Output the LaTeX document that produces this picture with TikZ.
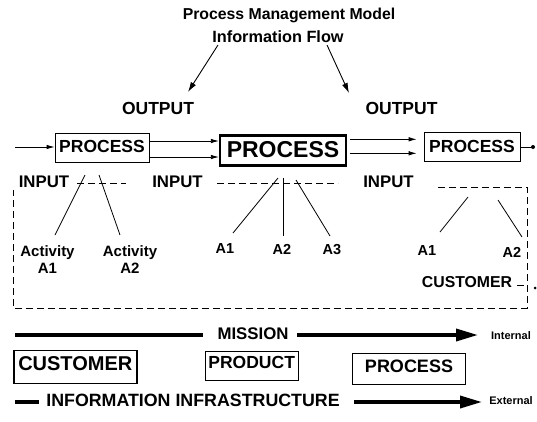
\documentclass[tikz,border=0pt]{standalone}
\usepackage{fontspec}
\setmainfont{Liberation Sans}
\usetikzlibrary{arrows.meta}
\newcommand{\fsz}[1]{\fontsize{#1}{#1}\selectfont\bfseries}
\begin{document}
\begin{tikzpicture}[x=1pt,y=-1pt,
  lbl/.style={inner sep=0pt, anchor=base, font=\fsz{#1}},
  lbl/.default=15,
  procbox/.style={draw, line width=0.8pt, inner ysep=0pt, inner xsep=0pt, anchor=base},
  flow/.style={line width=0.8pt, -{Latex[length=8pt,width=4.5pt]}},
  pointer/.style={line width=0.9pt, -{Latex[length=10pt,width=6pt]}},
  tie/.style={line width=0.8pt},
  frame/.style={line width=0.7pt, dash pattern=on 7pt off 4pt},
  heavy/.style={line width=4.5pt},
  heavyarrow/.style={line width=3.5pt, -{Triangle[length=22pt,width=12pt]}},
]
\useasboundingbox (0,0) rectangle (537,421);

% heading
\node[lbl=15.8] (title) at (289,19) {Process Management Model};
\node[lbl=16.3] (info) at (278,42) {Information Flow};
\coordinate (infoL) at (218,45);
\coordinate (infoR) at (327,45);

% outputs
\node[lbl=17.5] (out1) at (158,114.3) {OUTPUT};
\node[lbl=17.5] (out2) at (401.5,114.3) {OUTPUT};
\draw[pointer] (infoL) -- (188,92) coordinate (out1tip);
\draw[pointer] (infoR) -- (349,93) coordinate (out2tip);

% process chain
\node[procbox, font=\fsz{17.5}, text height=19pt, text depth=10pt, minimum width=94pt] (p1) at (102,152) {PROCESS};
\node[procbox, line width=2.2pt, font=\fsz{23}, text height=21.5pt, text depth=8.5pt, minimum width=126pt] (p2) at (283,157) {PROCESS};
\node[procbox, font=\fsz{17.5}, text height=20pt, text depth=9pt, minimum width=96pt] (p3) at (472,152) {PROCESS};

\coordinate (src) at (15,147);
\draw[flow] (src) -- (p1.west |- src);
\draw[flow] (p1.east |- 0,141) -- (p2.west |- 0,141);
\draw[flow] (p1.east |- 0,157) -- (p2.west |- 0,157);
\draw[flow] ([xshift=3pt]p2.east |- 0,139.3) -- ([xshift=-7pt]p3.west |- 0,139.3);
\draw[flow] ([xshift=3pt]p2.east |- 0,153.3) -- ([xshift=-7pt]p3.west |- 0,153.3);
\coordinate (sink) at (533,147);
\draw[tie] (p3.east |- sink) -- (sink);
\fill (sink) circle (2pt);

% inputs
\node[lbl=16.8] (in1) at (44,187.3) {INPUT};
\node[lbl=16.8] (in2) at (177.5,187.3) {INPUT};
\node[lbl=16.8] (in3) at (388.5,187.3) {INPUT};

% dashed boundary of the activities
\draw[frame] (77,183) -- (126,183);
\draw[frame] (217,183) -- (338,183);
\draw[frame] (438,187) -- (527,187) -- (527,308) -- (13,308) -- (13,190);

% activities
\node[inner sep=0pt, align=center, font=\fontsize{15}{16.5}\selectfont\bfseries] (a11) at (47.5,259.5) {Activity\\A1};
\node[inner sep=0pt, align=center, font=\fontsize{15}{16.5}\selectfont\bfseries] (a12) at (130,259.5) {Activity\\A2};
\node[lbl=14.5] (a21) at (225,253) {A1};
\node[lbl=14.5] (a22) at (282,254) {A2};
\node[lbl=14.5] (a23) at (332,254) {A3};
\node[lbl=14.5] (a31) at (427,255) {A1};
\node[lbl=14.5] (a32) at (512,257) {A2};

\draw[tie] (85,175) -- (55,235);
\draw[tie] (99,175) -- (120,235);
\draw[tie] (278,178) -- (233,233);
\draw[tie] (283,178) -- (283,236);
\draw[tie] (296,180) -- (330,236);
\draw[tie] (468,197) -- (440,232);
\draw[tie] (498,200) -- (522,237);

% customer at the edge
\node[lbl=15.8] (cust) at (467,287) {CUSTOMER};
\draw[frame] (517,285) -- (527,285);
\coordinate (custdot) at (535,288);
\fill (custdot) circle (1.5pt);

% mission
\node[lbl=16.8] (mission) at (253,339) {MISSION};
\draw[heavy] (15,335) -- (203,335);
\draw[heavyarrow] (297,335) -- (478,335);
\node[lbl=11] (internal) at (511,339) {Internal};

% customer / product / process
\node[procbox, line width=1.6pt, font=\fsz{20}, text height=19.6pt, text depth=13.6pt, minimum width=123pt] (cbox) at (75.3,370) {CUSTOMER};
\node[procbox, font=\fsz{17.5}, text height=17pt, text depth=12pt, minimum width=92.5pt] (pbox) at (251.7,368) {PRODUCT};
\node[procbox, font=\fsz{18}, text height=19pt, text depth=12pt, minimum width=113pt] (rbox) at (409,372) {PROCESS};

% information infrastructure
\node[lbl=17.8] (infra) at (193,406.6) {INFORMATION INFRASTRUCTURE};
\draw[heavy] (15,402) -- (39,402);
\draw[heavyarrow] (354,402) -- (482,402);
\node[lbl=11] (external) at (511,404) {External};
\end{tikzpicture}
\end{document}
